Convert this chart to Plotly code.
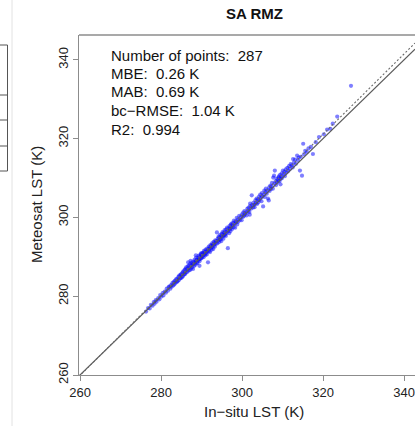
import plotly.graph_objects as go

# ---- data -------------------------------------------------------------
insitu = [
 276.3,276.8,277.2,277.5,277.9,278.2,278.4,278.7,278.9,279.3,279.6,279.8,280.1,280.4,280.6,280.9,281.2,281.4,281.7,281.9,
 282.1,282.3,282.5,282.6,282.8,283.0,283.1,283.3,283.4,283.6,283.7,283.9,284.0,284.1,284.3,284.4,284.5,284.7,284.8,284.9,
 285.0,285.2,285.3,285.4,285.5,285.7,285.8,285.9,286.0,286.1,286.2,286.4,286.5,286.6,286.7,286.8,286.9,287.0,287.1,287.2,
 287.4,287.5,287.6,287.7,287.8,287.9,288.0,288.1,288.2,288.3,288.4,288.5,288.6,288.7,288.8,288.9,289.0,289.1,289.2,289.3,
 289.4,289.5,289.6,289.7,289.8,289.9,289.9,289.5,288.6,287.3,
 290.0,290.1,290.2,290.3,290.4,290.5,290.6,290.7,290.8,290.9,291.0,291.1,291.2,291.3,291.4,291.5,291.6,291.7,291.8,291.9,
 292.0,292.1,292.2,292.3,292.4,292.5,292.6,292.7,292.8,292.9,293.0,293.1,293.2,293.3,293.4,293.5,293.6,293.8,293.9,294.0,
 294.1,294.2,294.3,294.4,294.5,294.6,294.7,294.8,294.9,295.0,295.1,295.2,295.3,295.4,295.5,295.6,295.7,295.8,295.9,296.0,
 296.1,296.2,296.3,296.5,296.6,296.7,296.8,296.9,297.0,297.1,297.2,297.3,297.4,297.5,297.6,297.8,297.9,298.0,298.2,298.3,
 298.4,298.6,298.7,298.8,299.0,299.1,299.3,299.5,299.7,299.9,
 300.0,300.2,300.3,300.5,300.6,300.8,301.0,301.1,301.3,301.5,301.6,301.8,302.0,302.0,302.2,302.4,302.5,302.7,302.8,303.0,
 303.1,303.3,303.4,303.6,303.7,303.9,304.0,304.2,304.3,304.5,304.6,304.8,304.9,305.0,305.2,305.3,305.5,305.6,305.8,305.9,
 306.1,306.3,306.4,306.6,306.7,306.8,307.0,307.1,307.3,307.4,307.6,307.7,307.9,308.0,308.1,308.3,308.4,308.6,308.7,308.9,
 309.0,309.1,309.2,309.4,309.5,309.7,309.8,309.9,309.5,301.9,
 310.1,310.3,310.5,310.6,310.8,311.0,311.2,311.4,311.6,311.8,312.0,312.3,312.5,312.6,312.8,313.1,313.3,313.6,313.8,314.0,
 314.3,314.5,314.8,315.1,315.3,315.6,316.0,316.4,317.0,317.5,318.2,
 319.0,320.2,321.0,321.8,322.4,323.5,326.9,
]
meteosat = [
 276.1,277.0,276.9,277.8,277.6,278.5,278.1,279.0,278.6,279.5,279.2,280.3,279.9,280.8,280.2,281.2,280.9,281.9,281.4,282.3,
 282.5,281.9,282.8,282.4,283.3,282.7,283.6,283.0,283.9,283.4,284.3,283.6,284.5,283.8,284.9,284.1,285.2,284.5,285.4,284.6,
 285.6,284.8,286.0,285.1,286.3,285.5,286.6,285.6,286.9,286.0,287.3,286.1,286.9,287.6,288.6,286.5,287.8,287.2,286.6,288.2,
 287.0,287.9,288.5,287.4,288.1,286.9,288.8,288.3,287.7,289.3,288.6,288.0,289.0,289.8,288.5,289.2,288.4,289.7,289.1,290.3,
 289.4,288.9,290.1,289.5,290.6,289.6,290.9,287.7,290.4,289.0,
 290.4,289.8,291.0,290.2,290.9,289.9,291.5,290.6,291.2,290.4,291.8,290.9,291.4,290.6,292.1,291.3,288.6,291.9,292.6,291.5,
 292.3,291.2,293.0,292.2,292.8,291.8,293.4,292.5,293.1,292.0,293.8,293.0,293.5,292.6,294.2,293.3,294.0,296.2,293.4,294.6,
 294.1,295.1,293.7,294.9,294.3,295.6,294.4,295.2,294.0,295.8,295.0,296.3,295.4,294.6,296.1,295.5,296.8,295.6,296.3,295.3,
 297.0,296.1,297.4,292.2,296.6,297.2,296.0,297.8,297.1,296.5,298.1,297.4,298.4,297.0,297.9,298.6,297.5,299.2,298.3,297.4,
 299.0,298.8,299.9,298.2,299.5,298.9,300.4,299.4,300.1,299.3,
 300.8,300.1,301.2,300.4,301.6,300.9,301.3,300.5,302.2,301.6,302.5,301.4,302.9,303.5,302.2,305.6,303.1,302.5,303.7,303.2,
 302.6,304.3,303.6,304.8,303.4,304.5,303.8,305.3,304.4,305.8,304.9,304.1,306.2,305.3,302.8,305.7,306.8,305.2,306.4,307.3,
 306.0,306.9,304.8,304.3,307.6,306.7,308.1,307.2,307.9,308.8,307.3,310.1,310.6,308.6,311.9,309.2,308.2,309.8,308.9,309.5,
 310.1,310.4,309.2,310.8,309.7,310.3,311.2,310.0,308.4,300.7,
 311.9,310.9,311.6,310.5,312.2,311.4,312.6,311.8,313.0,312.3,313.5,313.2,312.7,314.8,313.9,314.7,313.6,315.7,314.5,315.2,
 311.9,315.4,310.6,318.7,316.0,316.9,316.6,317.5,317.9,316.1,319.1,
 320.4,321.1,322.3,322.5,323.8,325.6,333.4,
]

x_ticks = [260, 280, 300, 320, 340]
y_ticks = [260, 280, 300, 320, 340]
x_range = [259.75, 342.7]
y_range = [260.0, 346.3]

# 1:1 reference and linear fit (intercept, slope)
one_to_one = (0.0, 1.0)
fit_line = (-5.3, 1.02)

title_text = "SA RMZ"
x_title = "In\u2212situ LST (K)"
y_title = "Meteosat LST (K)"
stats_lines = [
    "Number of points:  287",
    "MBE:  0.26 K",
    "MAB:  0.69 K",
    "bc\u2212RMSE:  1.04 K",
    "R2:  0.994",
]

# ---- figure -----------------------------------------------------------
W, H = 415, 426
L, R, T, B = 79, 0, 35, 51
PW, PH = W - L - R, H - T - B


def px(xp):
    return (xp - L) / PW


def py(yp):
    return (H - B - yp) / PH


FONT = "Liberation Sans, Arial, Helvetica, sans-serif"
AX = "#8c8c8c"

fig = go.Figure()

fig.add_trace(go.Scatter(
    x=insitu, y=meteosat, mode="markers",
    marker=dict(size=4.2, color="rgba(0,0,255,0.5)", line=dict(width=0)),
    hoverinfo="skip", showlegend=False,
))

lx = [x_range[0], x_range[1]]
fig.add_trace(go.Scatter(
    x=lx, y=[one_to_one[0] + one_to_one[1] * v for v in lx], mode="lines",
    line=dict(color="#5a5a5a", width=1.2), hoverinfo="skip", showlegend=False,
))
fig.add_trace(go.Scatter(
    x=lx, y=[fit_line[0] + fit_line[1] * v for v in lx], mode="lines",
    line=dict(color="#6a6a6a", width=1.1, dash="2px,2px"), hoverinfo="skip", showlegend=False,
))

axis_common = dict(
    showgrid=False, zeroline=False, showline=True, linecolor=AX, linewidth=1.3,
    ticks="outside", ticklen=5, tickcolor=AX, tickwidth=1.2,
    tickfont=dict(family=FONT, size=13, color="#222"),
)
fig.update_xaxes(range=x_range, tickvals=x_ticks, ticktext=[str(v) for v in x_ticks], **axis_common)
fig.update_yaxes(range=y_range, tickvals=y_ticks, ticktext=[str(v) for v in y_ticks],
                 tickangle=-90, **axis_common)

shapes = [
    # top frame line
    dict(type="line", xref="paper", yref="paper", x0=0, x1=1, y0=1, y1=1,
         line=dict(color=AX, width=1.3)),
    # left page fragments
    dict(type="line", xref="paper", yref="paper", x0=px(12), x1=px(12), y0=py(0), y1=py(426),
         line=dict(color="#e2e2e2", width=1)),
    dict(type="line", xref="paper", yref="paper", x0=px(7.5), x1=px(7.5), y0=py(45), y1=py(171),
         line=dict(color="#555", width=1)),
]
for yy in [45, 95, 120, 146, 171]:
    shapes.append(dict(type="line", xref="paper", yref="paper", x0=px(0), x1=px(7.5),
                       y0=py(yy), y1=py(yy), line=dict(color="#555", width=1)))

annotations = [
    dict(text="<b>" + title_text + "</b>", x=px(254), y=py(13), xref="paper", yref="paper",
         xanchor="center", yanchor="middle", showarrow=False,
         font=dict(family=FONT, size=15, color="#111")),
    dict(text=x_title, x=px(254), y=py(411), xref="paper", yref="paper",
         xanchor="center", yanchor="middle", showarrow=False,
         font=dict(family=FONT, size=15, color="#222")),
    dict(text=y_title, x=px(36), y=py(205), xref="paper", yref="paper",
         xanchor="center", yanchor="middle", showarrow=False, textangle=-90,
         font=dict(family=FONT, size=15, color="#222")),
]
for i, s in enumerate(stats_lines):
    annotations.append(dict(text=s, x=px(109), y=py(55 + 18.5 * i), xref="paper", yref="paper",
                            xanchor="left", yanchor="middle", showarrow=False,
                            font=dict(family=FONT, size=15, color="#111")))

fig.update_layout(
    width=W, height=H, margin=dict(l=L, r=R, t=T, b=B, pad=0),
    paper_bgcolor="white", plot_bgcolor="white",
    shapes=shapes, annotations=annotations, showlegend=False,
)

fig.write_html(
    "out.html",
    config={"displayModeBar": False},
    post_script="document.body.style.margin='0';document.body.style.overflow='hidden';",
)
